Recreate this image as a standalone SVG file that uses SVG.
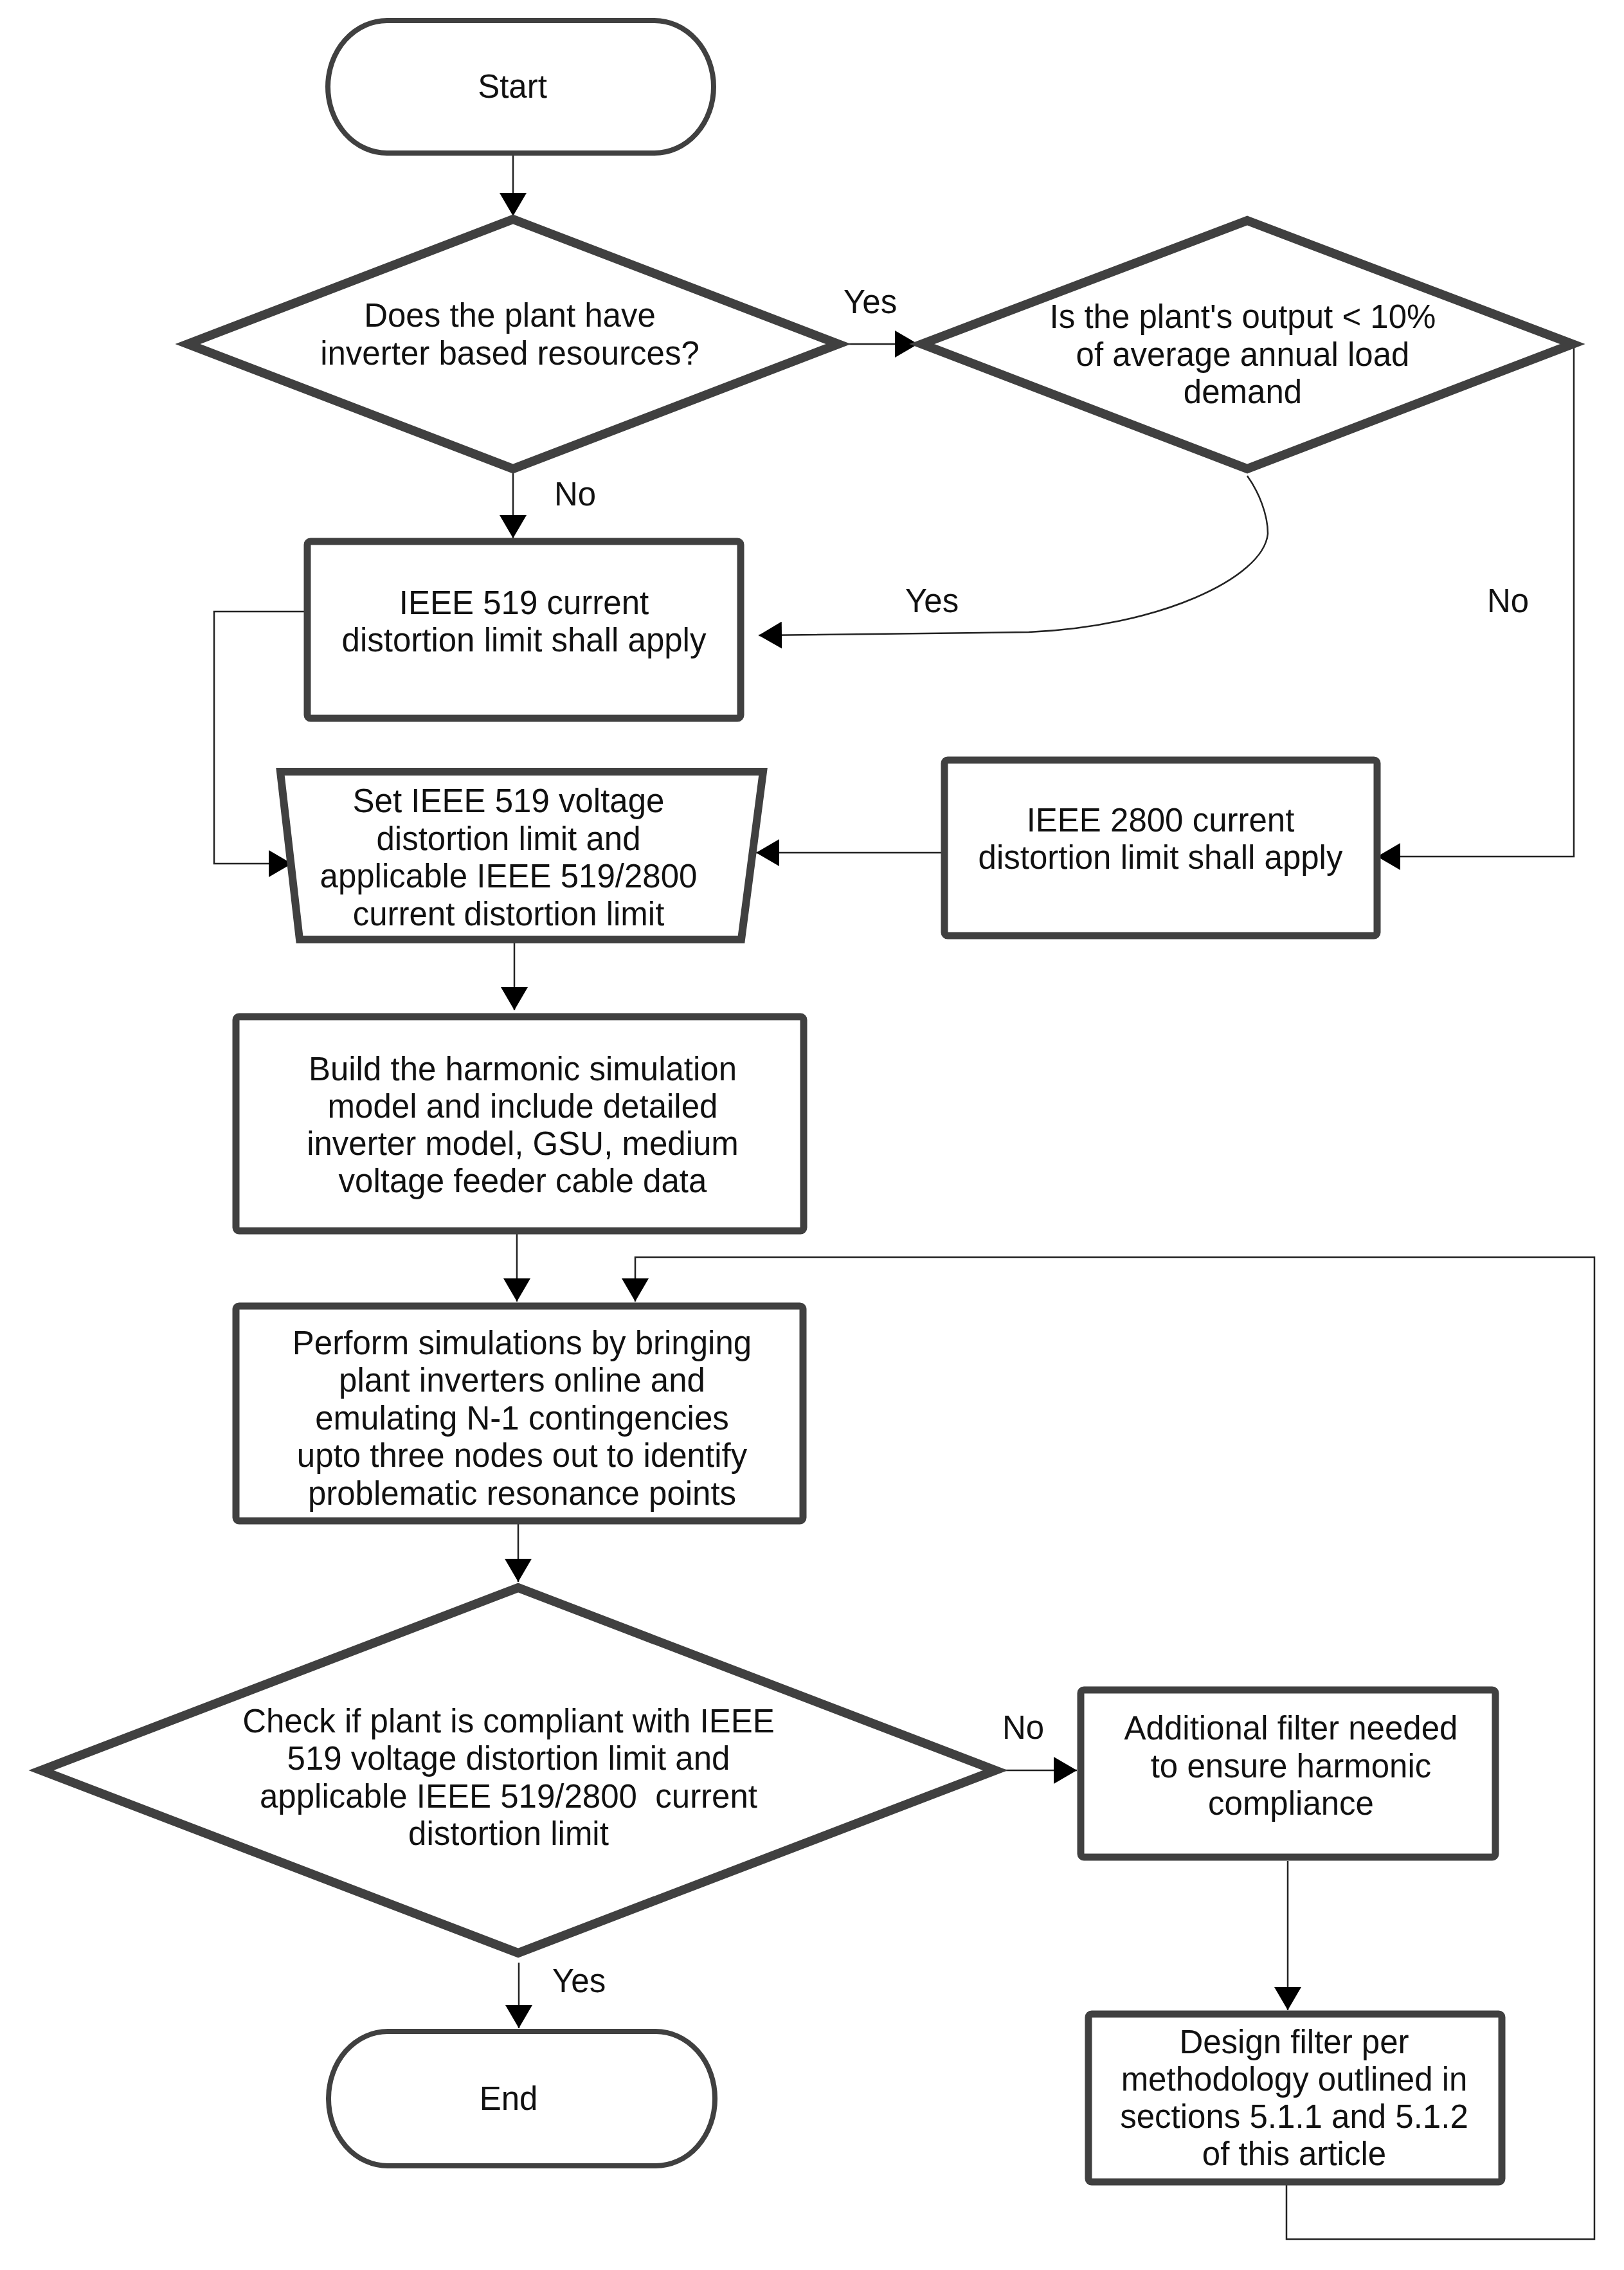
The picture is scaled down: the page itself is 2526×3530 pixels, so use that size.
<svg xmlns="http://www.w3.org/2000/svg" width="2526" height="3530" viewBox="0 0 2526 3530">
<style>
  .t { font-family: "Liberation Sans", Arial, Helvetica, sans-serif; font-size: 51px; fill: #111; text-anchor: middle; }
  .lbl { font-family: "Liberation Sans", Arial, Helvetica, sans-serif; font-size: 51px; fill: #111; }
  .term { fill: #fff; stroke: #404040; stroke-width: 8; }
  .box { fill: #fff; stroke: #404040; stroke-width: 11; }
  .trap { fill: #fff; stroke: #404040; stroke-width: 12; stroke-linejoin: miter; }
  .dia { fill: #fff; stroke: #404040; stroke-width: 14; stroke-linejoin: miter; }
  .conn { fill: none; stroke: #222; stroke-width: 2.5; }
</style>
<defs>
  <marker id="ah" viewBox="0 0 36 42" refX="36" refY="21" markerWidth="36" markerHeight="42" markerUnits="userSpaceOnUse" orient="auto">
    <path d="M0,0 L36,21 L0,42 Z" fill="#000"/>
  </marker>
</defs>
<rect x="0" y="0" width="2526" height="3530" fill="#fff"/>

<g id="connectors">
  <path class="conn" d="M798,240 L798,336" marker-end="url(#ah)"/>
  <path class="conn" d="M1308,535 L1428,535" marker-end="url(#ah)"/>
  <path class="conn" d="M798,734 L798,837" marker-end="url(#ah)"/>
  <path class="conn" d="M1940,740 C1958,765 1972,800 1972,830 C1965,900 1800,975 1600,983 L1180,988" marker-end="url(#ah)"/>
  <path class="conn" d="M2448,535 L2448,1332 L2142,1332" marker-end="url(#ah)"/>
  <path class="conn" d="M1464,1326 L1176,1326" marker-end="url(#ah)"/>
  <path class="conn" d="M473,951 L333,951 L333,1343 L454,1343" marker-end="url(#ah)"/>
  <path class="conn" d="M800,1467 L800,1571" marker-end="url(#ah)"/>
  <path class="conn" d="M804,1919 L804,2024" marker-end="url(#ah)"/>
  <path class="conn" d="M2001,3398 L2001,3482 L2480,3482 L2480,1955 L988,1955 L988,2024" marker-end="url(#ah)"/>
  <path class="conn" d="M806,2370 L806,2460" marker-end="url(#ah)"/>
  <path class="conn" d="M1558,2753 L1675,2753" marker-end="url(#ah)"/>
  <path class="conn" d="M2003,2894 L2003,3126" marker-end="url(#ah)"/>
  <path class="conn" d="M807,3052 L807,3154" marker-end="url(#ah)"/>
  <text class="lbl" x="1312" y="487">Yes</text>
  <text class="lbl" x="862" y="786">No</text>
  <text class="lbl" x="1408" y="952">Yes</text>
  <text class="lbl" x="2313" y="952">No</text>
  <text class="lbl" x="1559" y="2704">No</text>
  <text class="lbl" x="859" y="3098">Yes</text>
</g>

<g id="start">
  <rect class="term" x="510" y="32" width="600" height="206" rx="92" ry="103"/>
  <text class="t" x="797" y="152">Start</text>
</g>

<g id="d1">
  <polygon class="dia" points="798,341 1304,535 798,729 292,535"/>
  <text class="t" x="793" y="508">Does the plant have</text>
  <text class="t" x="793" y="567">inverter based resources?</text>
</g>

<g id="d2">
  <polygon class="dia" points="1940,343 2446,535 1940,729 1434,535"/>
  <text class="t" x="1933" y="510">Is the plant's output &lt; 10%</text>
  <text class="t" x="1933" y="569">of average annual load</text>
  <text class="t" x="1933" y="627">demand</text>
</g>

<g id="ieee519">
  <rect class="box" x="478" y="842" width="674" height="275" rx="5"/>
  <text class="t" x="815" y="955">IEEE 519 current</text>
  <text class="t" x="815" y="1013">distortion limit shall apply</text>
</g>

<g id="ieee2800">
  <rect class="box" x="1469" y="1182" width="673" height="273" rx="5"/>
  <text class="t" x="1805" y="1293">IEEE 2800 current</text>
  <text class="t" x="1805" y="1351">distortion limit shall apply</text>
</g>

<g id="setlimits">
  <polygon class="trap" points="436,1200 1187,1200 1153,1461 466,1461"/>
  <text class="t" x="791" y="1263">Set IEEE 519 voltage</text>
  <text class="t" x="791" y="1322">distortion limit and</text>
  <text class="t" x="791" y="1380">applicable IEEE 519/2800</text>
  <text class="t" x="791" y="1439">current distortion limit</text>
</g>

<g id="build">
  <rect class="box" x="367" y="1581" width="883" height="333" rx="5"/>
  <text class="t" x="813" y="1680">Build the harmonic simulation</text>
  <text class="t" x="813" y="1738">model and include detailed</text>
  <text class="t" x="813" y="1796">inverter model, GSU, medium</text>
  <text class="t" x="813" y="1854">voltage feeder cable data</text>
</g>

<g id="perform">
  <rect class="box" x="367" y="2031" width="882" height="334" rx="5"/>
  <text class="t" x="812" y="2106">Perform simulations by bringing</text>
  <text class="t" x="812" y="2164">plant inverters online and</text>
  <text class="t" x="812" y="2223">emulating N-1 contingencies</text>
  <text class="t" x="812" y="2281">upto three nodes out to identify</text>
  <text class="t" x="812" y="2340">problematic resonance points</text>
</g>

<g id="d3">
  <polygon class="dia" points="806,2469 1548,2753 806,3037 64,2753"/>
  <text class="t" x="791" y="2694">Check if plant is compliant with IEEE</text>
  <text class="t" x="791" y="2752">519 voltage distortion limit and</text>
  <text class="t" x="791" y="2811" xml:space="preserve">applicable IEEE 519/2800  current</text>
  <text class="t" x="791" y="2869">distortion limit</text>
</g>

<g id="additional">
  <rect class="box" x="1681" y="2628" width="645" height="260" rx="5"/>
  <text class="t" x="2008" y="2705">Additional filter needed</text>
  <text class="t" x="2008" y="2764">to ensure harmonic</text>
  <text class="t" x="2008" y="2822">compliance</text>
</g>

<g id="design">
  <rect class="box" x="1693" y="3132" width="643" height="261" rx="5"/>
  <text class="t" x="2013" y="3193">Design filter per</text>
  <text class="t" x="2013" y="3251">methodology outlined in</text>
  <text class="t" x="2013" y="3309">sections 5.1.1 and 5.1.2</text>
  <text class="t" x="2013" y="3367">of this article</text>
</g>

<g id="end">
  <rect class="term" x="511" y="3159" width="601" height="209" rx="92" ry="104"/>
  <text class="t" x="791" y="3281">End</text>
</g>
</svg>
